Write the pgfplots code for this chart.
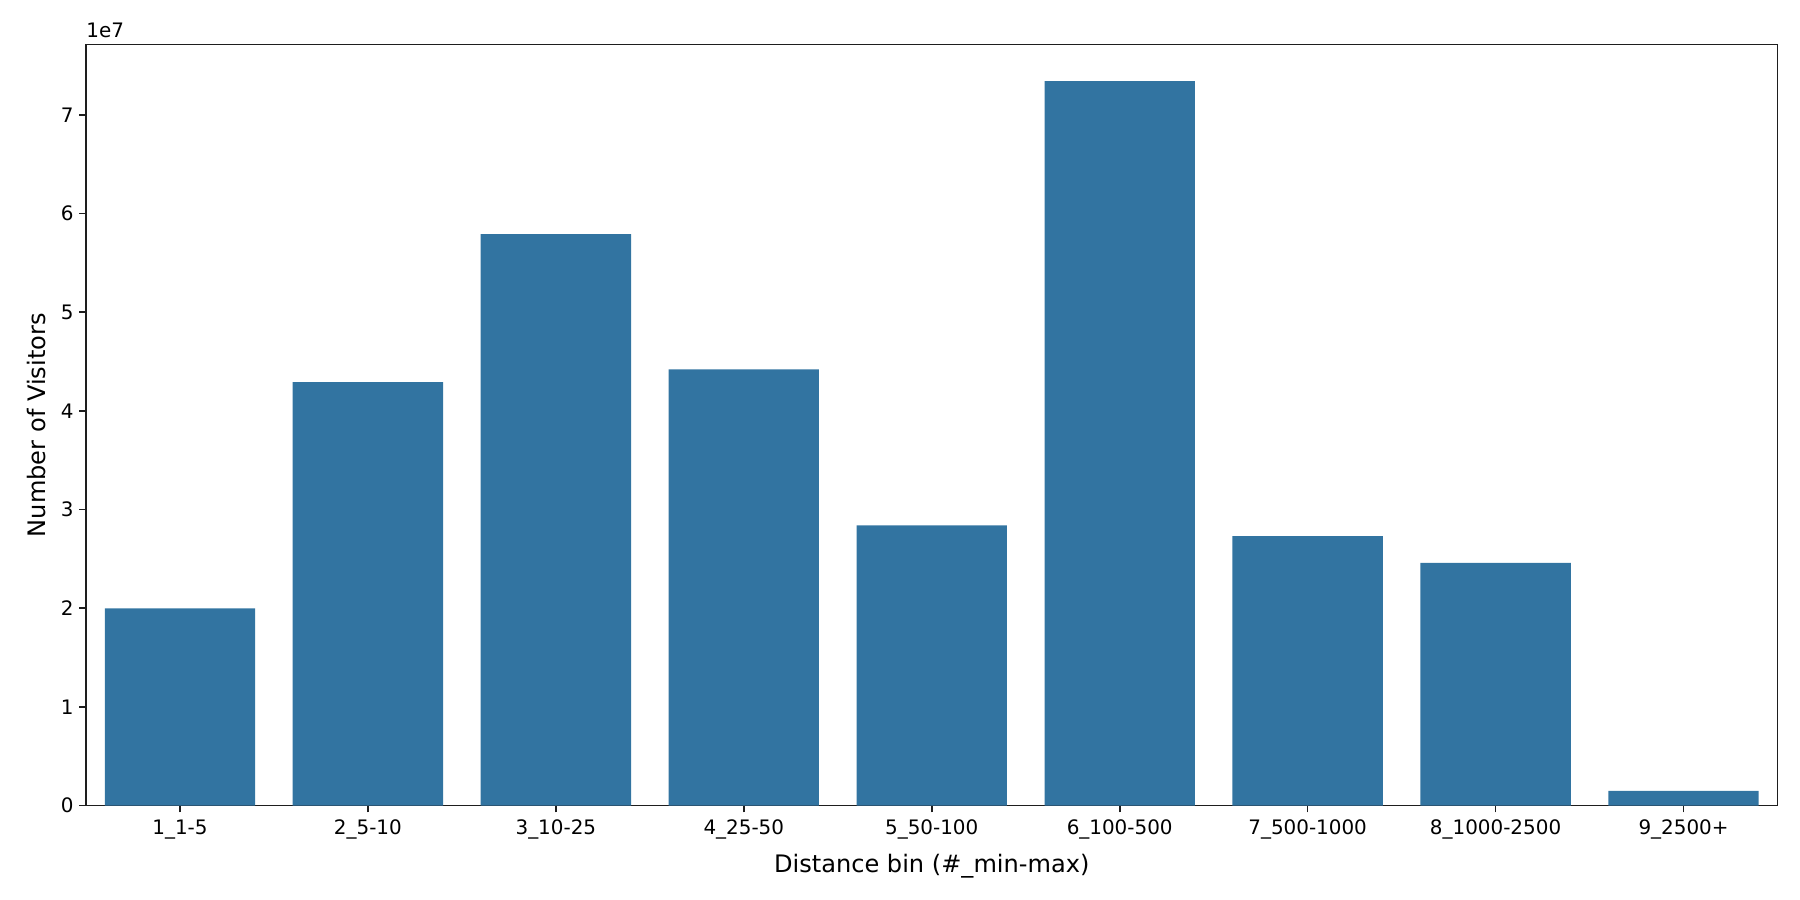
\documentclass[border=0pt]{standalone}
\usepackage{pgfplots}
\pgfplotsset{compat=1.18}
\usepackage{fontspec}
\setmainfont{DejaVu Sans}
\definecolor{barblue}{RGB}{50,116,161}
\definecolor{axisgray}{RGB}{30,30,30}
\begin{document}
\begin{tikzpicture}
\begin{axis}[
  scale only axis,
  width=1015bp, height=456.6bp,
  ybar, bar width=0.8, bar shift=0pt,
  xmin=-0.5, xmax=8.5,
  ymin=0, ymax=77100000,
  xtick=data,
  xticklabels={1\_1-5,2\_5-10,3\_10-25,4\_25-50,5\_50-100,6\_100-500,7\_500-1000,8\_1000-2500,9\_2500+},
  ytick={0,10000000,20000000,30000000,40000000,50000000,60000000,70000000},
  yticklabels={0,1,2,3,4,5,6,7},
  scaled y ticks=false,
  tick label style={font=\fontsize{12}{14}\selectfont, text=black},
  /pgf/number format/assume math mode=true,
  label style={font=\fontsize{14.5}{17}\selectfont},
  xlabel={Distance bin (\#\_min-max)},
  ylabel={Number of Visitors},
  xticklabel style={yshift=-1.2bp},
  xlabel style={yshift=-1.8bp},
  ylabel style={yshift=2.4bp},
  tick align=outside, tick pos=left,
  major tick length=4bp,
  every tick/.style={axisgray, line width=1pt},
  axis line style={axisgray, line width=1pt},
]
\addplot[fill=barblue, draw=none] coordinates {
  (0, 20000000) (1, 42900000) (2, 57900000) (3, 44200000) (4, 28400000)
  (5, 73400000) (6, 27300000) (7, 24600000) (8, 1490000)
};
\end{axis}
\node[anchor=south west, inner sep=0pt, font=\fontsize{12}{14}\selectfont] at ([yshift=4bp]current axis.north west) {1e7};
\path (current axis.south west) ++(-51.6bp,-56.6bp) rectangle ++(1080bp,540bp);
\end{tikzpicture}
\end{document}
